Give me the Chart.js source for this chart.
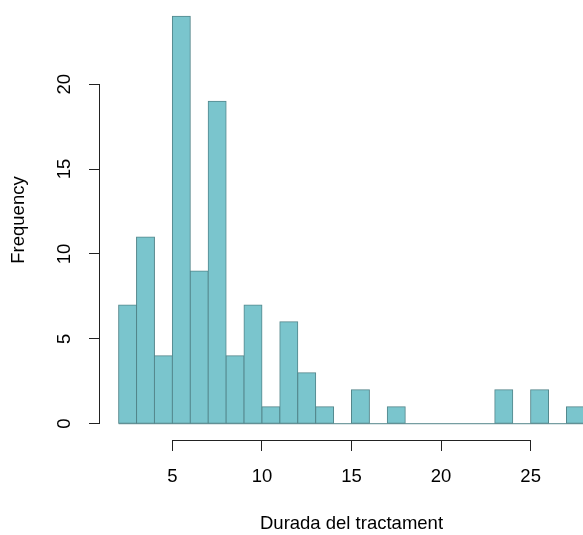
<!DOCTYPE html>
<html>
<head>
<meta charset="utf-8">
<script src="https://cdn.jsdelivr.net/npm/chart.js@4.4.1/dist/chart.umd.min.js"></script>
<style>
  html, body { margin: 0; padding: 0; overflow: hidden; background: #fff; }
  canvas { display: block; }
</style>
</head>
<body>
<canvas id="hist" width="603" height="535"></canvas>
<script>
  // histogram bins (width 1) and their counts
  const breaks = [2, 3, 4, 5, 6, 7, 8, 9, 10, 11, 12, 13, 14, 15, 16, 17, 18, 19, 20, 21, 22, 23, 24, 25, 26, 27, 28];
  const counts = [7, 11, 4, 24, 9, 19, 4, 7, 1, 6, 3, 1, 0, 2, 0, 1, 0, 0, 0, 0, 0, 2, 0, 2, 0, 1];
  const xTicks = [5, 10, 15, 20, 25];
  const yTicks = [0, 5, 10, 15, 20];
  const xTitle = 'Durada del tractament';
  const yTitle = 'Frequency';

  const FILL = '#7AC5CD', EDGE = '#53868B', INK = '#222';
  const FONT = { family: "'Liberation Sans', Arial, sans-serif", size: 18.5 };

  // R style axis range: data range stretched by 4% each side
  const xLo = breaks[0], xHi = breaks[breaks.length - 1];
  const yHi = Math.max(...counts);
  const xPad = (xHi - xLo) * 0.04, yPad = yHi * 0.04;

  const bars = counts.map((c, i) => ({ x: (breaks[i] + breaks[i + 1]) / 2, y: c }));
  const base = [{ x: xLo, y: 0 }, { x: xHi, y: 0 }];

  // axis lines only run from first to last tick, like base R
  const axisLines = {
    id: 'axisLines',
    afterDraw(chart) {
      const { ctx, chartArea, scales: { x, y } } = chart;
      const ax = Math.round(chartArea.left) - 0.5;
      const ay = Math.round(chartArea.bottom) + 0.5;
      ctx.save();
      ctx.strokeStyle = INK;
      ctx.lineWidth = 1;
      ctx.beginPath();
      ctx.moveTo(ax, y.getPixelForValue(yTicks[0]));
      ctx.lineTo(ax, y.getPixelForValue(yTicks[yTicks.length - 1]));
      ctx.moveTo(x.getPixelForValue(xTicks[0]), ay);
      ctx.lineTo(x.getPixelForValue(xTicks[xTicks.length - 1]), ay);
      ctx.stroke();
      ctx.restore();
    }
  };

  new Chart(document.getElementById('hist'), {
    data: {
      datasets: [
        { type: 'line', data: base, borderColor: EDGE, borderWidth: 1, pointRadius: 0, order: 0 },
        {
          type: 'bar', data: bars, backgroundColor: FILL, borderColor: EDGE, borderWidth: 1,
          borderSkipped: false, inflateAmount: 0.5, barPercentage: 1, categoryPercentage: 1, order: 1
        }
      ]
    },
    options: {
      responsive: false,
      animation: false,
      devicePixelRatio: 1,
      layout: { padding: 0 },
      plugins: { legend: { display: false }, tooltip: { enabled: false } },
      scales: {
        x: {
          type: 'linear', position: 'bottom', offset: false, min: xLo - xPad, max: xHi + xPad,
          afterBuildTicks: (s) => { s.ticks = xTicks.map((v) => ({ value: v })); },
          afterFit: (s) => { s.height = 95; s.paddingLeft = 0; s.paddingRight = 0; },
          border: { display: false },
          grid: { offset: false, drawOnChartArea: false, drawTicks: true, tickLength: 11, tickColor: INK, tickWidth: 1 },
          ticks: { autoSkip: false, maxRotation: 0, padding: 15, color: '#000', font: FONT },
          title: { display: true, text: xTitle, color: '#000', font: FONT, padding: { top: 0, bottom: 0 } }
        },
        y: {
          type: 'linear', min: -yPad, max: yHi + yPad,
          afterBuildTicks: (s) => { s.ticks = yTicks.map((v) => ({ value: v })); },
          afterFit: (s) => { s.width = 100; s.paddingTop = 0; s.paddingBottom = 0; },
          border: { display: false },
          grid: { drawOnChartArea: false, drawTicks: true, tickLength: 11, tickColor: INK, tickWidth: 1 },
          ticks: { autoSkip: false, minRotation: 90, maxRotation: 90, crossAlign: 'center', padding: 14, color: '#000', font: FONT },
          title: { display: true, text: yTitle, color: '#000', font: FONT, padding: { top: 8, bottom: 0 } }
        }
      }
    },
    plugins: [axisLines]
  });
</script>
</body>
</html>
